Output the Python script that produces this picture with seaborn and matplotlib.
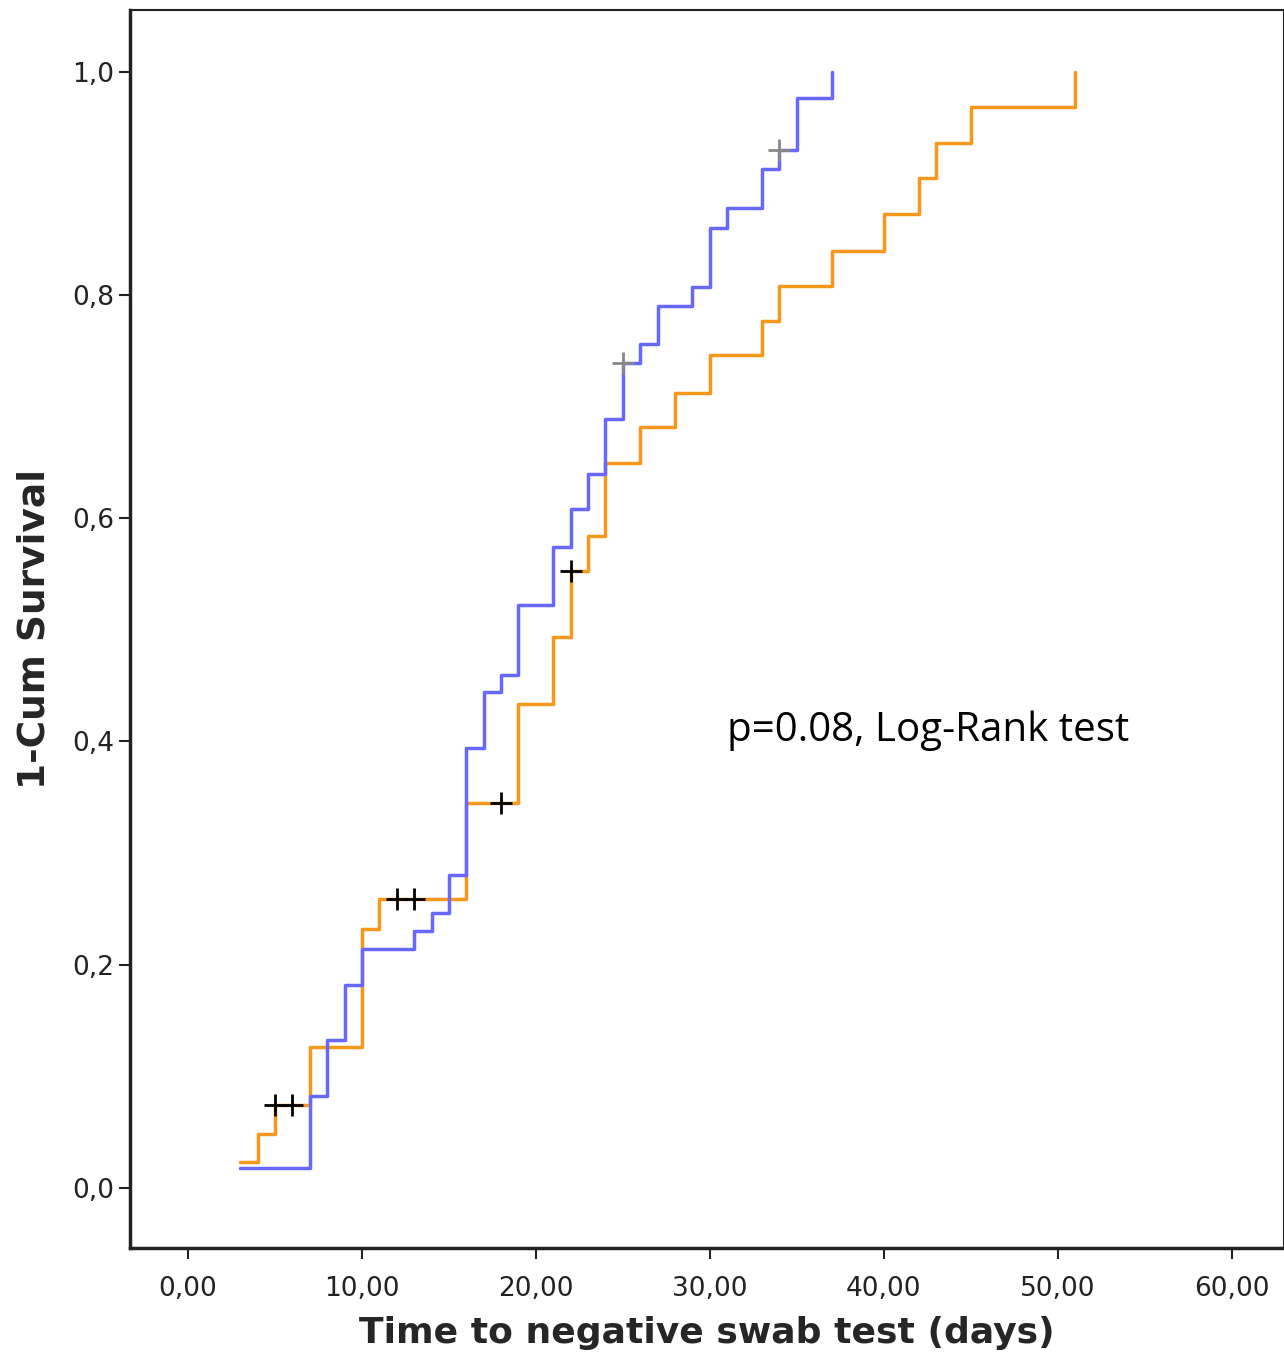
import matplotlib
matplotlib.use('Agg')
import matplotlib.pyplot as plt
import seaborn as sns
import pandas as pd

# step curves (time in days, 1 - cumulative survival after the step)
blue_t = [3, 7, 8, 9, 10, 13, 14, 15, 16, 17, 18, 19, 21, 22, 23, 24, 25, 26, 27, 29, 30, 31, 33, 34, 35, 37]
blue_y = [0.018, 0.082, 0.132, 0.182, 0.214, 0.230, 0.246, 0.280, 0.394, 0.444, 0.460, 0.522, 0.574,
          0.608, 0.640, 0.689, 0.739, 0.756, 0.790, 0.807, 0.860, 0.878, 0.913, 0.930, 0.977, 1.0]
orange_t = [3, 4, 5, 7, 10, 11, 16, 19, 21, 22, 23, 24, 26, 28, 30, 33, 34, 37, 40, 42, 43, 45, 51]
orange_y = [0.023, 0.048, 0.074, 0.126, 0.232, 0.259, 0.345, 0.434, 0.494, 0.553, 0.584, 0.650, 0.682,
            0.712, 0.746, 0.777, 0.808, 0.840, 0.873, 0.905, 0.936, 0.969, 1.0]

# censored observations
orange_cens_t = [5, 6, 12, 13, 18, 22]
orange_cens_y = [0.074, 0.074, 0.259, 0.259, 0.345, 0.553]
blue_cens_t = [25, 34]
blue_cens_y = [0.739, 0.930]

xticks = [0, 10, 20, 30, 40, 50, 60]
yticks = [0.0, 0.2, 0.4, 0.6, 0.8, 1.0]

sns.set_style('white')
fig = plt.figure(figsize=(12.84, 13.66), dpi=100)
ax = fig.add_axes([130 / 1284, 1 - 1248 / 1366, 1154 / 1284, 1238 / 1366])

df = pd.concat([
    pd.DataFrame({'t': orange_t, 'y': orange_y, 'grp': 'orange'}),
    pd.DataFrame({'t': blue_t, 'y': blue_y, 'grp': 'blue'}),
])
sns.lineplot(data=df, x='t', y='y', hue='grp', palette={'orange': '#f7971c', 'blue': '#6868ff'},
             drawstyle='steps-post', linewidth=2.5, legend=False, ax=ax, estimator=None)

sns.scatterplot(x=orange_cens_t, y=orange_cens_y, marker='+', s=250, color='black', linewidth=2, ax=ax, zorder=5)
sns.scatterplot(x=blue_cens_t, y=blue_cens_y, marker='+', s=250, color='#888888', linewidth=2, ax=ax, zorder=5)

ax.set_xlim(-3.33, 63.0)
ax.set_ylim(-0.054, 1.0556)
ax.set_xticks(xticks)
ax.set_xticklabels([f'{v},00' for v in xticks])
ax.set_yticks(yticks)
ax.set_yticklabels([f'{v:.1f}'.replace('.', ',') for v in yticks])
ax.tick_params(axis='both', direction='out', length=8, width=1.5, labelsize=19, colors='#222222',
               bottom=True, left=True)
ax.tick_params(axis='x', pad=12)
for sp in ax.spines.values():
    sp.set_color('#222222')
    sp.set_linewidth(1.5)
ax.spines['bottom'].set_linewidth(2.5)
ax.spines['left'].set_linewidth(2.5)

ax.set_xlabel('Time to negative swab test (days)', fontsize=26, fontweight='bold', labelpad=10)
ax.set_ylabel('1-Cum Survival', fontsize=27, fontweight='bold', labelpad=14)
ax.text(31.0, 0.400, 'p=0.08, Log-Rank test', fontsize=29, family='Open Sans', color='black')

fig.savefig('out.png', dpi=100)
